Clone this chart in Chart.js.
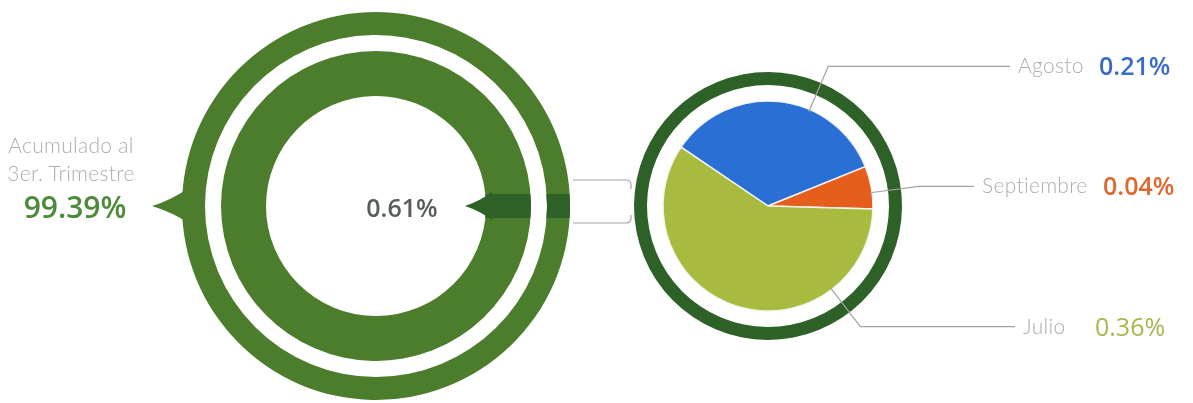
<!DOCTYPE html>
<html>
<head>
<meta charset="utf-8">
<script src="https://cdn.jsdelivr.net/npm/chart.js@4.4.1/dist/chart.umd.min.js"></script>
<style>
  html, body { margin: 0; padding: 0; background: #fff; }
  #stage { position: relative; width: 1193px; height: 403px; overflow: hidden; font-family: 'Open Sans', 'Noto Sans', sans-serif; }
  canvas { position: absolute; top: 0; }
  #quarterChart { left: 140px; }
  #monthChart { left: 560px; }
  .txt { position: absolute; white-space: nowrap; }
  .soft { font-family: Lato, 'Open Sans', sans-serif; font-weight: 300; color: #adadad; font-size: 21px; letter-spacing: 0.3px; line-height: 28px; }
  .big { font-weight: 600; }
</style>
</head>
<body>
<div id="stage">
  <canvas id="quarterChart" width="472" height="403"></canvas>
  <canvas id="monthChart" width="633" height="403"></canvas>
  <div class="txt soft" id="accLine1" style="left:0;width:142px;text-align:center;top:131px;">Acumulado al</div>
  <div class="txt soft" id="accLine2" style="left:0;width:142px;text-align:center;top:159px;">3er. Trimestre</div>
  <div class="txt big" id="accValue" style="left:0;width:150px;text-align:center;top:189px;font-size:30px;line-height:36px;color:#4d8a3a;"></div>
  <div class="txt big" id="quarterValue" style="left:352px;width:100px;text-align:center;top:191px;font-size:25px;line-height:32px;color:#565c5a;"></div>
</div>
<script>
// data
const quarterLabels = ['3er. Trimestre', 'Acumulado al 3er. Trimestre'];
const quarterShare = [0.61, 99.39];
const monthLabels = ['Agosto', 'Septiembre', 'Julio'];
const monthValues = [0.21, 0.04, 0.36];

// colours
const GREEN = '#4c7d2d';
const DARK = '#2e6127';
const monthColors = ['#2a6fd4', '#e55e1c', '#a9bb3e'];
const valueColors = ['#3a6cc6', '#e0682e', '#a6b84c'];
const valueWeights = [600, 600, 400];

// where each leader line leaves its slice (fraction of slice) and where it ends (x in canvas)
const leaderFrac = [0.64, 0.62, 0.24];
const leaderEnd = [450, 414, 455];

const fmt = v => v.toFixed(2) + '%';
document.getElementById('accValue').textContent = fmt(quarterShare[1]);
document.getElementById('quarterValue').textContent = fmt(quarterShare[0]);

const stage = document.getElementById('stage');
const monthTags = monthLabels.map((name, i) => {
    const n = document.createElement('div');
    n.className = 'txt soft';
    n.textContent = name;
    const v = document.createElement('div');
    v.className = 'txt';
    v.textContent = fmt(monthValues[i]);
    v.style.cssText += `font-size:25px;line-height:32px;font-weight:${valueWeights[i]};color:${valueColors[i]};`;
    stage.appendChild(n);
    stage.appendChild(v);
    return { n, v };
});

// dark band + pointer tabs on the big ring
const ringMarkers = {
    id: 'ringMarkers',
    afterDatasetsDraw(chart) {
        const ctx = chart.ctx;
        const outer = chart.getDatasetMeta(0).data[0];
        const inner = chart.getDatasetMeta(2).data[0];
        const x = outer.x, y = outer.y;
        const oR = outer.outerRadius, oIn = outer.innerRadius;
        const iR = inner.innerRadius, iO = inner.outerRadius;
        ctx.save();

        ctx.fillStyle = GREEN;
        ctx.beginPath();
        ctx.moveTo(x - oR + 8, y - 19);
        ctx.quadraticCurveTo(x - oR - 10, y - 6, x - oR - 30, y);
        ctx.quadraticCurveTo(x - oR - 10, y + 6, x - oR + 8, y + 18);
        ctx.closePath();
        ctx.fill();

        ctx.fillStyle = DARK;
        [[oIn, oR], [iR, iO]].forEach(([r0, r1]) => {
            ctx.save();
            ctx.beginPath();
            ctx.arc(x, y, r1, 0, Math.PI * 2);
            ctx.moveTo(x + r0, y);
            ctx.arc(x, y, r0, 0, Math.PI * 2, true);
            ctx.clip();
            ctx.fillRect(x, y - 12, r1 + 2, 24);
            ctx.restore();
        });
        ctx.beginPath();
        ctx.moveTo(x + iR + 6, y - 14);
        ctx.quadraticCurveTo(x + iR - 6, y - 5, x + iR - 21, y);
        ctx.quadraticCurveTo(x + iR - 6, y + 5, x + iR + 6, y + 14);
        ctx.closePath();
        ctx.fill();
        ctx.restore();
    }
};

new Chart(document.getElementById('quarterChart'), {
    type: 'doughnut',
    data: {
        labels: quarterLabels,
        datasets: [
            { data: quarterShare, backgroundColor: [DARK, GREEN], borderWidth: 0, weight: 23 },
            { data: [100], backgroundColor: 'rgba(0,0,0,0)', borderWidth: 0, weight: 16 },
            { data: quarterShare, backgroundColor: [DARK, GREEN], borderWidth: 0, weight: 45 }
        ]
    },
    options: {
        responsive: false,
        animation: false,
        events: [],
        cutout: (110 / 194 * 100) + '%',
        rotation: 90 - quarterShare[0] / 100 * 360 / 2,
        layout: { padding: { top: 12, bottom: 3, left: 0, right: 0 } },
        plugins: { legend: { display: false }, tooltip: { enabled: false } }
    },
    plugins: [ringMarkers]
});

// leader lines, bracket and label placement for the small pie
const pieLeaders = {
    id: 'pieLeaders',
    afterDatasetsDraw(chart) {
        const ctx = chart.ctx;
        const ring = chart.getDatasetMeta(0).data[0];
        const arcs = chart.getDatasetMeta(2).data;
        const cx = ring.x, cy = ring.y, rR = ring.outerRadius;
        const canvasLeft = chart.canvas.offsetLeft;
        ctx.save();
        ctx.strokeStyle = '#a3a3a3';
        ctx.lineWidth = 1.2;

        // bracket joining the two circles
        ctx.beginPath();
        ctx.moveTo(cx - rR - 61, cy - 26);
        ctx.lineTo(cx - rR - 8, cy - 26);
        ctx.quadraticCurveTo(cx - rR - 3, cy - 26, cx - rR - 3, cy - 21);
        ctx.lineTo(cx - rR - 3, cy - 17);
        ctx.moveTo(cx - rR - 61, cy + 17);
        ctx.lineTo(cx - rR - 8, cy + 17);
        ctx.quadraticCurveTo(cx - rR - 3, cy + 17, cx - rR - 3, cy + 12);
        ctx.lineTo(cx - rR - 3, cy + 9);
        ctx.stroke();

        arcs.forEach((arc, i) => {
            const a = arc.startAngle + leaderFrac[i] * (arc.endAngle - arc.startAngle);
            const r0 = arc.outerRadius - 2, r1 = rR + 18;
            const ex = cx + Math.cos(a) * r1, ey = cy + Math.sin(a) * r1;
            ctx.beginPath();
            ctx.moveTo(cx + Math.cos(a) * r0, cy + Math.sin(a) * r0);
            ctx.lineTo(ex, ey);
            ctx.lineTo(leaderEnd[i], ey);
            ctx.stroke();

            const tag = monthTags[i];
            tag.n.style.left = (canvasLeft + leaderEnd[i] + 8) + 'px';
            tag.n.style.top = (ey - 15) + 'px';
            const nameEnd = tag.n.offsetLeft + tag.n.offsetWidth;
            tag.v.style.left = Math.max(nameEnd + 15, 1095) + 'px';
            tag.v.style.top = (ey - 17) + 'px';
        });
        ctx.restore();
    }
};

const monthTotal = monthValues.reduce((s, v) => s + v, 0);
const firstSlice = monthValues[0] / monthTotal * 360;

new Chart(document.getElementById('monthChart'), {
    type: 'pie',
    data: {
        labels: monthLabels,
        datasets: [
            { data: [monthTotal], backgroundColor: DARK, borderWidth: 0, weight: 13 },
            { data: [monthTotal], backgroundColor: 'rgba(0,0,0,0)', borderWidth: 0, weight: 16 },
            { data: monthValues, backgroundColor: monthColors, borderColor: '#f4f4ee', borderWidth: 1.5, weight: 105 }
        ]
    },
    options: {
        responsive: false,
        animation: false,
        events: [],
        rotation: 6 - firstSlice / 2,
        layout: { padding: { left: 74, right: 291, top: 72, bottom: 63 } },
        plugins: { legend: { display: false }, tooltip: { enabled: false } }
    },
    plugins: [pieLeaders]
});
</script>
</body>
</html>
